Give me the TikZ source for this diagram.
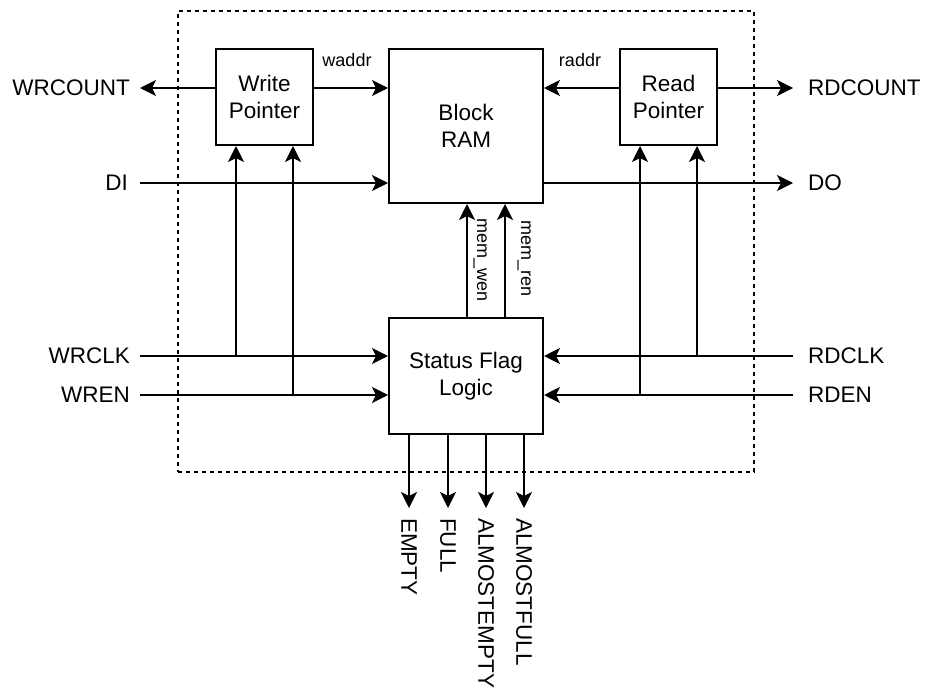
\documentclass[tikz,border=0pt]{standalone}
\usepackage{fontspec}
\setmainfont{Liberation Sans}
\usetikzlibrary{arrows.meta}
\begin{document}
\begin{tikzpicture}[x=1pt,y=-1pt,
  box/.style={draw, line width=2pt, align=center, inner sep=0pt, font=\fontsize{22.5}{27}\selectfont},
  lbl/.style={inner sep=0pt, font=\fontsize{22.5}{27}\selectfont},
  sml/.style={inner sep=0pt, font=\fontsize{18}{21}\selectfont},
  arr/.style={line width=2pt, -{Stealth[length=16pt,width=16pt,inset=4pt]}},
  frame/.style={draw, line width=1.4pt, dash pattern=on 4pt off 4pt, inner sep=0pt}]
\useasboundingbox (0,0) rectangle (925,690);
% frame
\node[frame, minimum width=576pt, minimum height=461pt] (fr) at (466,241.5) {};
% blocks
\node[box, minimum width=97pt, minimum height=96pt] (wp) at (264.5,97) {Write\\Pointer};
\node[box, minimum width=154pt, minimum height=154pt] (ram) at (466,126) {Block\\RAM};
\node[box, minimum width=97pt, minimum height=96pt] (rp) at (668.5,97) {Read\\Pointer};
\node[box, minimum width=154pt, minimum height=116pt] (sfl) at (466,376) {Status Flag\\Logic};
% free ends
\coordinate (lwrc) at (140,88);
\coordinate (ldi) at (140,183);
\coordinate (lwclk) at (140,356);
\coordinate (lwen) at (140,395);
\coordinate (rrdc) at (793,88);
\coordinate (rdo) at (793,183);
\coordinate (rrclk) at (793,356);
\coordinate (rren) at (793,395);
% outer labels
\node[lbl, anchor=east] (twrc) at (130,88) {WRCOUNT};
\node[lbl, anchor=east] (tdi) at (128,183) {DI};
\node[lbl, anchor=east] (twclk) at (130,356) {WRCLK};
\node[lbl, anchor=east] (twen) at (130,395) {WREN};
\node[lbl, anchor=west] (trdc) at (808,88) {RDCOUNT};
\node[lbl, anchor=west] (tdo) at (808,183) {DO};
\node[lbl, anchor=west] (trclk) at (808,356) {RDCLK};
\node[lbl, anchor=west] (tren) at (808,395) {RDEN};
% top row
\draw[arr] (lwrc -| wp.west) -- (lwrc);
\draw[arr] (lwrc -| wp.east) -- (lwrc -| ram.west);
\node[sml, anchor=base] (twaddr) at (347,67) {waddr};
\draw[arr] (rrdc -| rp.west) -- (rrdc -| ram.east);
\node[sml, anchor=base] (traddr) at (580,67) {raddr};
\draw[arr] (rrdc -| rp.east) -- (rrdc);
% data
\draw[arr] (ldi) -- (ldi -| ram.west);
\draw[arr] (rdo -| ram.east) -- (rdo);
% clocks and enables
\draw[arr] (lwclk) -- (lwclk -| sfl.west);
\draw[arr] (lwen) -- (lwen -| sfl.west);
\draw[arr] (rrclk) -- (rrclk -| sfl.east);
\draw[arr] (rren) -- (rren -| sfl.east);
\coordinate (jw1) at (236,356);
\coordinate (jw2) at (293,395);
\coordinate (jr1) at (640,395);
\coordinate (jr2) at (697,356);
\draw[arr] (jw1) -- (jw1 |- wp.south);
\draw[arr] (jw2) -- (jw2 |- wp.south);
\draw[arr] (jr1) -- (jr1 |- rp.south);
\draw[arr] (jr2) -- (jr2 |- rp.south);
% memory enables
\coordinate (mw) at (467,318);
\coordinate (mr) at (505,318);
\draw[arr] (mw) -- (mw |- ram.south);
\draw[arr] (mr) -- (mr |- ram.south);
\node[sml, rotate=-90, anchor=base west] (tmw) at (477,218) {mem\_wen};
\node[sml, rotate=-90, anchor=base west] (tmr) at (521,220) {mem\_ren};
% status outputs
\coordinate (o1) at (409,508);
\coordinate (o2) at (448,508);
\coordinate (o3) at (486,508);
\coordinate (o4) at (524,508);
\draw[arr] (o1 |- sfl.south) -- (o1);
\draw[arr] (o2 |- sfl.south) -- (o2);
\draw[arr] (o3 |- sfl.south) -- (o3);
\draw[arr] (o4 |- sfl.south) -- (o4);
\node[lbl, rotate=-90, anchor=west] (te) at (409,518) {EMPTY};
\node[lbl, rotate=-90, anchor=west] (tf) at (448,518) {FULL};
\node[lbl, rotate=-90, anchor=west] (tae) at (486,518) {ALMOSTEMPTY};
\node[lbl, rotate=-90, anchor=west] (taf) at (524,518) {ALMOSTFULL};
\end{tikzpicture}
\end{document}
